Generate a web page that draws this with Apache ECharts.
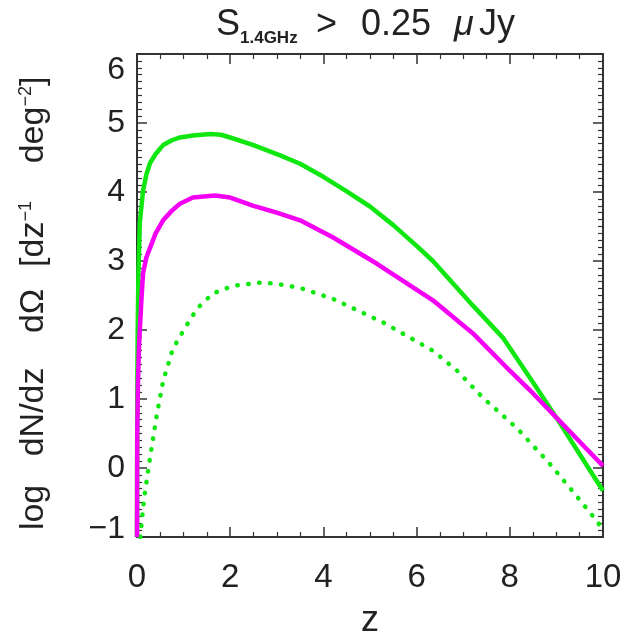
<!DOCTYPE html>
<html>
<head>
<meta charset="utf-8">
<script src="https://cdn.jsdelivr.net/npm/echarts@6/dist/echarts.min.js"></script>
<style>html,body{margin:0;padding:0;background:#fff;}#c{width:629px;height:634px;}</style>
</head>
<body>
<div id="c"></div>
<script>
// Green solid curve
const zGreen = [0, 0.005, 0.015, 0.03, 0.06, 0.13, 0.2, 0.28, 0.4, 0.56, 0.75, 0.92, 1.2, 1.57, 1.8, 2.0, 2.5, 3.07, 3.5, 4.0, 4.5, 5.0, 5.5, 6.0, 6.35, 7.2, 7.85, 8.5, 9.0, 9.5, 10];
const vGreen = [-1, 1.0, 2.0, 2.8, 3.55, 4.02, 4.25, 4.42, 4.55, 4.68, 4.75, 4.79, 4.82, 4.84, 4.83, 4.79, 4.68, 4.53, 4.41, 4.22, 4.01, 3.79, 3.52, 3.22, 3.0, 2.36, 1.89, 1.24, 0.73, 0.2, -0.33];
// Magenta solid curve
const zMagenta = [0, 0.005, 0.02, 0.04, 0.06, 0.1, 0.13, 0.2, 0.28, 0.4, 0.56, 0.75, 0.92, 1.2, 1.67, 2.0, 2.5, 3.0, 3.5, 4.21, 5.15, 6.35, 7.21, 8.0, 8.5, 9.0, 9.5, 10];
const vMagenta = [-1, 0.5, 1.2, 1.7, 2.0, 2.5, 2.82, 3.05, 3.19, 3.4, 3.59, 3.73, 3.83, 3.92, 3.95, 3.92, 3.8, 3.7, 3.59, 3.34, 2.96, 2.43, 1.95, 1.41, 1.08, 0.73, 0.38, 0.03];
// Green dotted curve
const zDotted = [0.07, 0.15, 0.28, 0.43, 0.56, 0.77, 1.03, 1.29, 1.63, 2.06, 2.7, 3.07, 3.5, 4.21, 5.28, 6.35, 6.87, 7.42, 8.15, 8.86, 9.4, 9.87, 10];
const vDotted = [-1, -0.45, 0.15, 0.79, 1.26, 1.73, 2.03, 2.31, 2.53, 2.64, 2.69, 2.66, 2.61, 2.45, 2.11, 1.70, 1.41, 1.02, 0.58, 0.06, -0.38, -0.77, -0.9];
const xTicks = [0, 2, 4, 6, 8, 10];
const yTicks = [-1, 0, 1, 2, 3, 4, 5, 6];

const pairs = (zs, vs) => zs.map((z, i) => [z, vs[i]]);
const FONT = 'Liberation Sans';
const GREEN = '#10e610';
const MAGENTA = '#f400f4';
const AXC = '#333';
const TXT = '#222';

const chart = echarts.init(document.getElementById('c'), null, {renderer: 'canvas'});
const baseAxis = {
  axisLine: {show: true, onZero: false, lineStyle: {color: AXC, width: 2}},
  axisTick: {show: true, inside: true, length: 10, lineStyle: {color: AXC, width: 1.5}},
  minorTick: {show: true, length: 5, lineStyle: {color: AXC, width: 1.2}},
  splitLine: {show: false},
  minorSplitLine: {show: false}
};
const mainT = {fontFamily: FONT, fontSize: 36, color: TXT, fontWeight: 'normal', verticalAlign: 'top', lineHeight: 36};
chart.setOption({
  animation: false,
  backgroundColor: '#fff',
  title: {
    text: '{a|S}{sub|1.4GHz}{b|>}{c|0.25}{mu|μ}{d|Jy}',
    left: 216, top: 7, padding: 0,
    textStyle: {
      fontWeight: 'normal',
      rich: {
        a: Object.assign({}, mainT, {width: 24}),
        sub: {fontFamily: FONT, fontSize: 17, color: TXT, fontWeight: 'bold', verticalAlign: 'bottom', lineHeight: 40, width: 76},
        b: Object.assign({}, mainT, {width: 45}),
        c: Object.assign({}, mainT, {width: 93}),
        mu: Object.assign({}, mainT, {fontStyle: 'italic', width: 25}),
        d: Object.assign({}, mainT)
      }
    }
  },
  grid: {left: 137, right: 26, top: 54, bottom: 97, outerBoundsMode: 'none', containLabel: false},
  xAxis: [
    Object.assign({}, baseAxis, {
      type: 'value', min: 0, max: 10, interval: 2, position: 'bottom',
      minorTick: Object.assign({}, baseAxis.minorTick, {splitNumber: 4}),
      axisLabel: {show: true, fontFamily: FONT, fontSize: 33, color: TXT, margin: 24,
        customValues: xTicks},
      name: 'z', nameLocation: 'middle', nameGap: 66,
      nameTextStyle: {fontFamily: FONT, fontSize: 36, color: TXT}
    }),
    Object.assign({}, baseAxis, {
      type: 'value', min: 0, max: 10, interval: 2, position: 'top',
      minorTick: Object.assign({}, baseAxis.minorTick, {splitNumber: 4}),
      axisLabel: {show: false}
    })
  ],
  yAxis: [
    Object.assign({}, baseAxis, {
      type: 'value', min: -1, max: 6, interval: 1, position: 'left',
      minorTick: Object.assign({}, baseAxis.minorTick, {splitNumber: 10}),
      axisLabel: {show: true, fontFamily: FONT, fontSize: 32, color: TXT, margin: 12,
        verticalAlignMaxLabel: 'top',
        formatter: v => (v < 0 ? '{lo|\u2212' + Math.abs(v) + '}' : String(v)),
        rich: {lo: {fontFamily: FONT, fontSize: 32, color: TXT, padding: [0, 0, 16, 0]}}
      },
      name: '{a|log}{b|dN/dz}{c|dΩ}{t| [dz}{sup|−1}{t|    deg}{sup|−2}{t|]}{sp| }',
      nameLocation: 'middle', nameGap: 86, nameRotate: 90,
      nameTextStyle: {
        rich: {
          a: {fontFamily: FONT, fontSize: 34, color: TXT, width: 58, align: 'center'},
          b: {fontFamily: FONT, fontSize: 34, color: TXT, width: 133, align: 'center'},
          c: {fontFamily: FONT, fontSize: 34, color: TXT, width: 69, align: 'center'},
          t: {fontFamily: FONT, fontSize: 34, color: TXT},
          sup: {fontFamily: FONT, fontSize: 18, color: TXT, verticalAlign: 'top', padding: [0, 0, 14, 0]},
          sp: {fontFamily: FONT, fontSize: 34, color: TXT, width: 22}
        }
      }
    }),
    Object.assign({}, baseAxis, {
      type: 'value', min: -1, max: 6, interval: 1, position: 'right',
      minorTick: Object.assign({}, baseAxis.minorTick, {splitNumber: 10}),
      axisLabel: {show: false}
    })
  ],
  series: [
    {type: 'line', name: 'green', data: pairs(zGreen, vGreen), showSymbol: false, symbol: 'none',
      lineStyle: {color: GREEN, width: 4.5}, clip: true, z: 3},
    {type: 'line', name: 'magenta', data: pairs(zMagenta, vMagenta), showSymbol: false, symbol: 'none',
      lineStyle: {color: MAGENTA, width: 4.5}, clip: true, z: 4},
    {type: 'line', name: 'dotted', data: pairs(zDotted, vDotted), showSymbol: false, symbol: 'none',
      lineStyle: {color: GREEN, width: 4.5, type: [0.5, 10.5], cap: 'round'}, clip: true, z: 2}
  ]
});
</script>
</body>
</html>
